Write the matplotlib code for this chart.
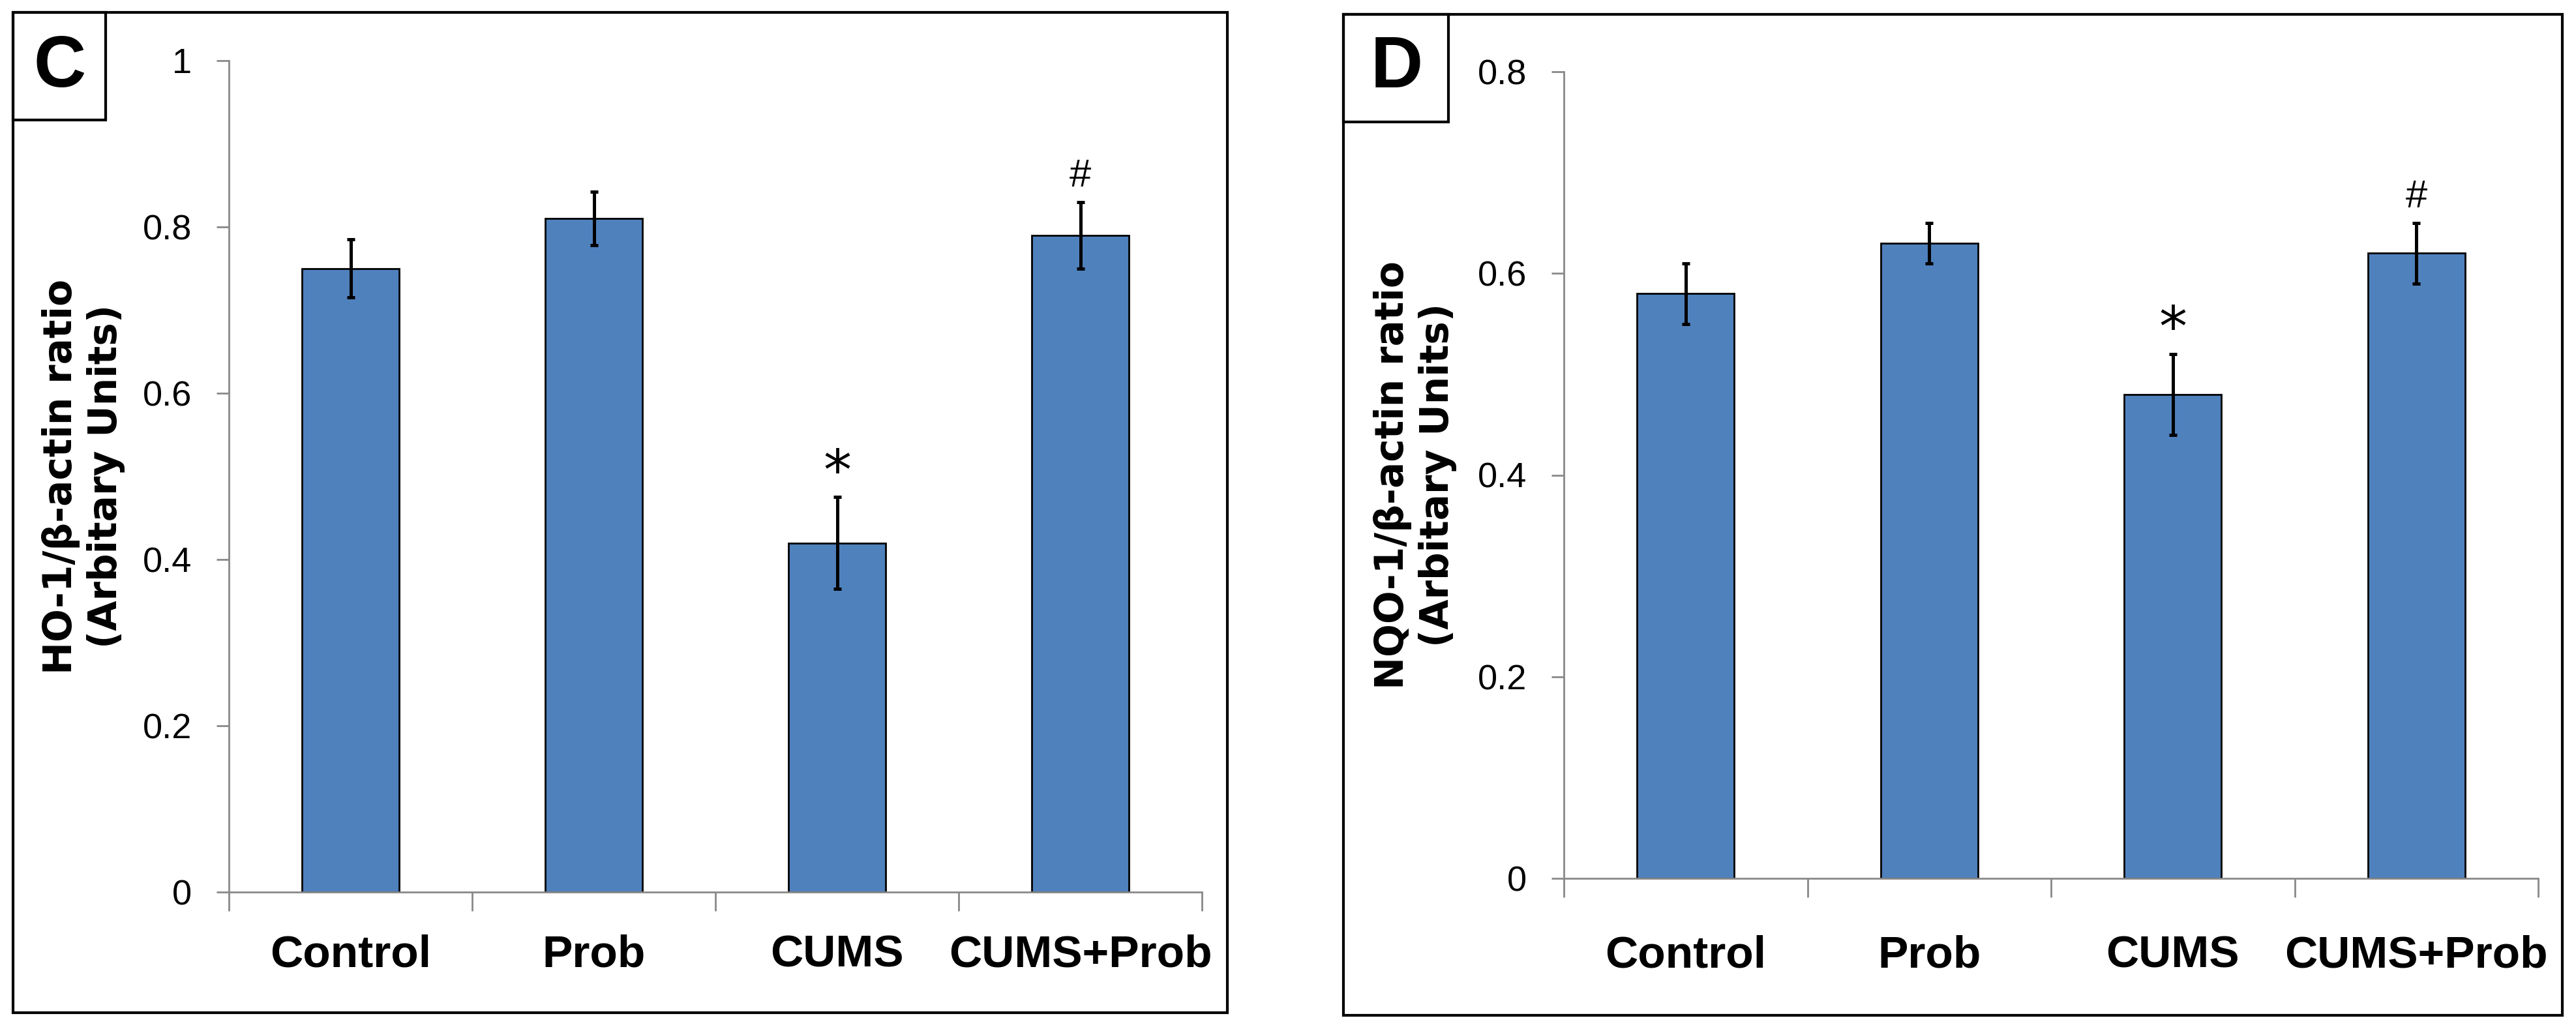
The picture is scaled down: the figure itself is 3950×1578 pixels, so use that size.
import numpy as np
import matplotlib
matplotlib.use("Agg")
import matplotlib.pyplot as plt
from matplotlib.patches import Rectangle

# data
categories = ["Control", "Prob", "CUMS", "CUMS+Prob"]
ho1_mean = [0.75, 0.81, 0.42, 0.79]
ho1_err = [0.035, 0.032, 0.055, 0.04]
ho1_marks = ["", "", "*", "#"]
nqo1_mean = [0.58, 0.63, 0.48, 0.62]
nqo1_err = [0.03, 0.02, 0.04, 0.03]
nqo1_marks = ["", "", "*", "#"]

W, H = 3950, 1578
BAR = "#4F81BD"
AXC = "#898989"
NARROW = ["Liberation Sans Narrow", "Liberation Sans", "DejaVu Sans"]
REG = ["Liberation Sans", "DejaVu Sans"]

fig = plt.figure(figsize=(W / 100, H / 100), dpi=100)


def px_rect(x0, y0, x1, y1):
    # pixel box (top-left origin) -> figure fraction rect
    return [x0 / W, 1 - y1 / H, (x1 - x0) / W, (y1 - y0) / H]


def panel(rect, means, errs, marks, ylim, yticks, ylabel, lab_y, ylab_x):
    ax = fig.add_axes(rect)
    x = np.arange(len(categories))
    ax.bar(x, means, width=0.4, color=BAR, edgecolor="black", linewidth=2, zorder=2)
    ax.errorbar(x, means, yerr=errs, fmt="none", ecolor="black", elinewidth=3.6,
                capsize=4.5, capthick=3.6, zorder=3)

    ax.set_xlim(-0.5, len(categories) - 0.5)
    ax.set_ylim(*ylim)
    for s in ["top", "right"]:
        ax.spines[s].set_visible(False)
    for s in ["left", "bottom"]:
        ax.spines[s].set_color(AXC)
        ax.spines[s].set_linewidth(2)

    ax.set_yticks(yticks)
    ax.set_yticklabels(["0" if v == 0 else ("1" if v == 1 else f"{v:.1f}") for v in yticks],
                       family=REG, fontsize=39)
    ax.tick_params(axis="y", length=13.7, width=2, color=AXC, pad=27)

    ax.set_xticks(np.arange(len(categories) + 1) - 0.5)
    ax.set_xticklabels([])
    ax.tick_params(axis="x", length=21, width=2, color=AXC)
    for i, c in enumerate(categories):
        ax.text(i, lab_y, c, transform=ax.get_xaxis_transform(), ha="center",
                va="baseline", fontsize=50, fontweight="bold", family=NARROW)

    # significance marks above the error bars
    for i, m in enumerate(marks):
        if m == "*":
            fs = 62
            ax.annotate(m, xy=(i, means[i] + errs[i]), xytext=(0, 43 - 0.56 * fs),
                        textcoords="offset points", ha="center", va="baseline",
                        fontsize=fs, family="DejaVu Sans")
        elif m == "#":
            fs = 43
            ax.annotate(m, xy=(i, means[i] + errs[i]), xytext=(0, 32 - 0.35 * fs),
                        textcoords="offset points", ha="center", va="baseline",
                        fontsize=fs, family=REG)

    pos = ax.get_position()
    fig.text(ylab_x / W, (pos.y0 + pos.y1) / 2, ylabel, rotation=90, ha="center",
             va="center", multialignment="center", fontsize=43, fontweight="bold",
             family="DejaVu Sans", linespacing=1.2)
    return ax


panel(px_rect(351, 93, 1843, 1368), ho1_mean, ho1_err, ho1_marks, (0, 1),
      [0, 0.2, 0.4, 0.6, 0.8, 1.0], "HO-1/\u03b2-actin ratio\n(Arbitary Units)", -0.090, 128)
panel(px_rect(2398, 110, 3892, 1347), nqo1_mean, nqo1_err, nqo1_marks, (0, 0.8),
      [0, 0.2, 0.4, 0.6, 0.8], "NQO-1/\u03b2-actin ratio\n(Arbitary Units)", -0.110, 2170)

# panel frames and letter boxes
for (x0, y0, x1, y1) in [(20, 19, 1882, 1553), (2060, 22, 3929, 1557),
                         (20, 19, 162, 184), (2060, 22, 2221, 187)]:
    r = px_rect(x0, y0, x1, y1)
    fig.add_artist(Rectangle((r[0], r[1]), r[2], r[3], transform=fig.transFigure,
                             fill=False, edgecolor="black", linewidth=3))

fig.text(92 / W, 1 - 104 / H, "C", ha="center", va="center", fontsize=80,
         fontweight="bold", family=REG)
fig.text(2142 / W, 1 - 105 / H, "D", ha="center", va="center", fontsize=80,
         fontweight="bold", family=REG)

fig.savefig("out.png", dpi=100)
